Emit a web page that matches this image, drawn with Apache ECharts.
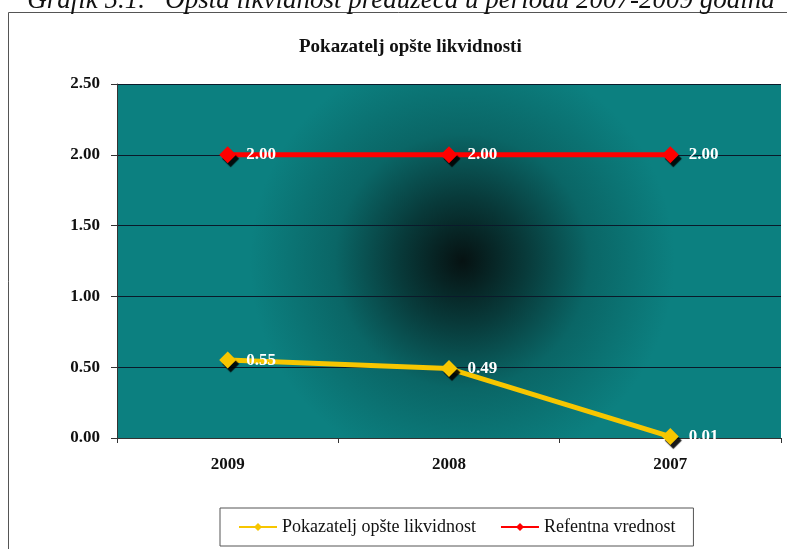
<!DOCTYPE html>
<html><head><meta charset="utf-8">
<script src="https://cdn.jsdelivr.net/npm/echarts@6/dist/echarts.min.js"></script>
<style>html,body{margin:0;padding:0;background:#fff}#c{width:787px;height:549px}</style>
</head><body><div id="c"></div>
<script>
var categories = ['2009', '2008', '2007'];
var pokazatelj = [0.55, 0.49, 0.01];
var referentna = [2.00, 2.00, 2.00];
var yTicks = [0, 0.5, 1, 1.5, 2, 2.5];

var chart = echarts.init(document.getElementById('c'));
var serif = '"Liberation Serif", "Times New Roman", serif';
var labelStyle = {
  show: true, position: 'right', distance: 10, color: '#fff', fontFamily: serif,
  fontWeight: 'bold', fontSize: 17, formatter: function (p) { return p.value.toFixed(2); }
};
var markerShadow = { shadowColor: 'rgba(0,0,0,0.9)', shadowOffsetX: 3, shadowOffsetY: 4, shadowBlur: 1 };
chart.setOption({
  animation: false,
  title: {
    text: 'Pokazatelj opšte likvidnosti', left: 294, top: 33,
    textStyle: { fontFamily: serif, fontWeight: 'bold', fontSize: 19, color: '#111' }
  },
  graphic: [
    { type: 'rect', shape: { x: 8.5, y: 12.5, width: 800, height: 560 }, style: { fill: 'none', stroke: '#555', lineWidth: 1 }, z: -1 },
    { type: 'text', style: { text: 'Grafik 5.1.   Opšta likvidnost preduzeća u periodu 2007-2009 godina', x: 401, y: 14, align: 'center', verticalAlign: 'bottom', font: 'italic 27px ' + serif, fill: '#111' } }
  ],
  grid: {
    left: 117, right: 6, top: 84, bottom: 111, show: true, borderWidth: 0,
    backgroundColor: {
      type: 'radial', x: 0.52, y: 0.5, r: 0.6,
      colorStops: [
        { offset: 0, color: '#061212' },
        { offset: 0.3, color: '#083a3a' },
        { offset: 0.6, color: '#0a6666' },
        { offset: 1, color: '#0c8080' }
      ]
    }
  },
  legend: {
    bottom: 3, left: 220, padding: [10, 18, 10, 18], borderColor: '#555', borderWidth: 1,
    itemWidth: 38, itemHeight: 10, itemGap: 24,
    textStyle: { fontFamily: serif, fontSize: 18, color: '#111' },
    data: ['Pokazatelj opšte likvidnost', 'Refentna vrednost']
  },
  xAxis: {
    type: 'category', data: categories, boundaryGap: true,
    axisLine: { lineStyle: { color: '#333', width: 1 } },
    axisTick: { show: true, length: 5, lineStyle: { color: '#333' } },
    axisLabel: { fontFamily: serif, fontWeight: 'bold', fontSize: 17, color: '#111', margin: 18 }
  },
  yAxis: {
    type: 'value', min: 0, max: 2.5, interval: 0.5,
    axisLine: { show: true, lineStyle: { color: '#333' } },
    axisTick: { show: true, length: 6, lineStyle: { color: '#333' } },
    axisLabel: { fontFamily: serif, fontWeight: 'bold', fontSize: 17, color: '#111', margin: 17,
      formatter: function (v) { return v.toFixed(2); } },
    splitLine: { show: true, lineStyle: { color: '#0a1a2a', width: 1 } }
  },
  series: [
    {
      name: 'Pokazatelj opšte likvidnost', type: 'line', data: pokazatelj,
      symbol: 'diamond', symbolSize: 17,
      lineStyle: { color: '#f7c600', width: 5 },
      itemStyle: Object.assign({ color: '#f7c600' }, markerShadow),
      label: labelStyle
    },
    {
      name: 'Refentna vrednost', type: 'line', data: referentna,
      symbol: 'diamond', symbolSize: 17,
      lineStyle: { color: '#ff0000', width: 5 },
      itemStyle: Object.assign({ color: '#ff0000' }, markerShadow),
      label: labelStyle
    }
  ]
});
</script></body></html>
